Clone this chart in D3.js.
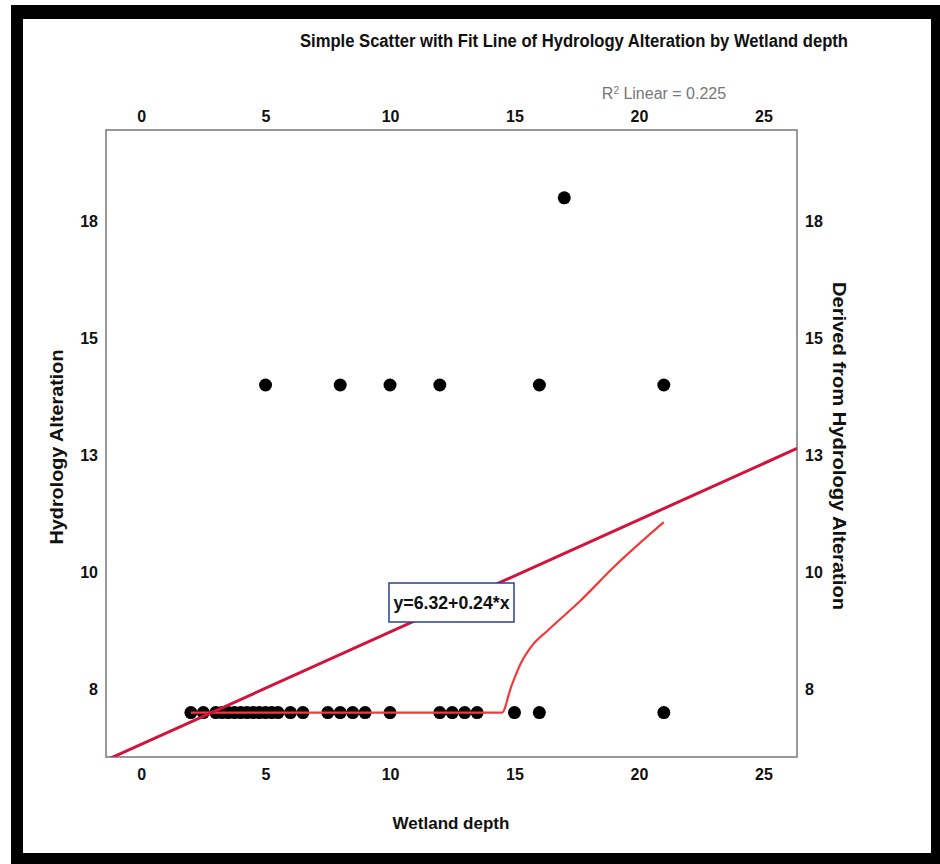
<!DOCTYPE html>
<html>
<head>
<meta charset="utf-8">
<script src="https://cdn.jsdelivr.net/npm/d3@7"></script>
<style>
  body { margin: 0; background: #fff; }
  text { font-family: "Liberation Sans", Arial, sans-serif; }
</style>
</head>
<body>
<div id="chart"></div>
<script>
// Data

var depth = [2, 2.5, 3, 3.25, 3.5, 3.75, 4, 4.25, 4.5, 4.75, 5, 5.25, 5.5, 6, 6.5, 7.5, 8, 8.5, 9, 10, 12, 12.5, 13, 13.5, 15, 16, 21,
             5, 8, 10, 12, 16, 21,
             17];
var alteration = [7, 7, 7, 7, 7, 7, 7, 7, 7, 7, 7, 7, 7, 7, 7, 7, 7, 7, 7, 7, 7, 7, 7, 7, 7, 7, 7,
                  14, 14, 14, 14, 14, 14,
                  18];

// smoothed (loess-like) line
var loessX = [2, 14.5, 14.86, 15.26, 15.66, 16.35, 17.67, 18.99, 21];
var loessY = [7, 7, 7.54, 8.06, 8.4, 8.76, 9.4, 10.11, 11.07];

// linear fit y = 6.32 + 0.24x
var fitIntercept = 6.32;
var fitSlope = 0.24;

var xTicks = [0, 5, 10, 15, 20, 25];
var yTicks = [7.5, 10, 12.5, 15, 17.5];
var yTickLabels = ["8", "10", "13", "15", "18"];

var width = 940, height = 864;
var plot = {left: 106, right: 797, top: 130, bottom: 757};

var svg = d3.select("#chart")
  .append("svg")
  .attr("width", width)
  .attr("height", height);

// black frame
svg.append("rect")
  .attr("x", 11).attr("y", 5)
  .attr("width", width - 11).attr("height", height - 5)
  .attr("fill", "#000");
svg.append("rect")
  .attr("x", 23).attr("y", 19)
  .attr("width", 931 - 23).attr("height", 853 - 19)
  .attr("fill", "#fff");

// Scales

var xScale = d3.scaleLinear()
  .domain([-1.41, 26.35])
  .range([plot.left, plot.right]);

var yScale = d3.scaleLinear()
  .domain([6.05, 19.45])
  .range([plot.bottom, plot.top]);

svg.append("clipPath").attr("id", "plotclip")
  .append("rect")
  .attr("x", plot.left).attr("y", plot.top)
  .attr("width", plot.right - plot.left).attr("height", plot.bottom - plot.top);

// plot box
svg.append("rect")
  .attr("x", plot.left).attr("y", plot.top)
  .attr("width", plot.right - plot.left).attr("height", plot.bottom - plot.top)
  .attr("fill", "none")
  .attr("stroke", "#777")
  .attr("stroke-width", 1.5);

// Axes (no tick marks, no domain line)

function styleAxis(g) {
  g.select(".domain").remove();
  g.selectAll("line").remove();
  g.selectAll("text")
    .attr("font-size", 16)
    .attr("font-weight", "bold")
    .attr("fill", "#111");
}

svg.append("g")
  .attr("transform", `translate(0, ${plot.top - 8})`)
  .call(d3.axisTop(xScale).tickValues(xTicks).tickSize(0).tickPadding(0))
  .call(styleAxis);

svg.append("g")
  .attr("transform", `translate(0, ${plot.bottom + 8})`)
  .call(d3.axisBottom(xScale).tickValues(xTicks).tickSize(0).tickPadding(0))
  .call(styleAxis)
  .selectAll("text").attr("dy", "0.95em");

svg.append("g")
  .attr("transform", `translate(${plot.left - 8}, 0)`)
  .call(d3.axisLeft(yScale).tickValues(yTicks).tickSize(0).tickPadding(0)
    .tickFormat(function(d, i) { return yTickLabels[i]; }))
  .call(styleAxis);

svg.append("g")
  .attr("transform", `translate(${plot.right + 8}, 0)`)
  .call(d3.axisRight(yScale).tickValues(yTicks).tickSize(0).tickPadding(0)
    .tickFormat(function(d, i) { return yTickLabels[i]; }))
  .call(styleAxis);

// Labels

svg.append("text")
  .attr("x", 574).attr("y", 47)
  .attr("text-anchor", "middle")
  .attr("font-size", 18)
  .attr("font-weight", "bold")
  .attr("fill", "#111")
  .attr("textLength", 548)
  .attr("lengthAdjust", "spacingAndGlyphs")
  .text("Simple Scatter with Fit Line of Hydrology Alteration by Wetland depth");

svg.append("text")
  .attr("x", 664).attr("y", 99)
  .attr("text-anchor", "middle")
  .attr("font-size", 16)
  .attr("fill", "#777")
  .html("R<tspan font-size='10' dy='-5'>2</tspan><tspan dy='5'> Linear = 0.225</tspan>");

svg.append("text")
  .attr("x", 451).attr("y", 829)
  .attr("text-anchor", "middle")
  .attr("font-size", 17)
  .attr("font-weight", "bold")
  .attr("fill", "#111")
  .text("Wetland depth");

svg.append("text")
  .attr("transform", "translate(63, 447) rotate(-90)")
  .attr("text-anchor", "middle")
  .attr("font-size", 18)
  .attr("font-weight", "bold")
  .attr("fill", "#111")
  .attr("textLength", 195)
  .attr("lengthAdjust", "spacingAndGlyphs")
  .text("Hydrology Alteration");

svg.append("text")
  .attr("transform", "translate(833, 446) rotate(90)")
  .attr("text-anchor", "middle")
  .attr("font-size", 18)
  .attr("font-weight", "bold")
  .attr("fill", "#111")
  .attr("textLength", 328)
  .attr("lengthAdjust", "spacingAndGlyphs")
  .text("Derived from Hydrology Alteration");

// Data marks

var marks = svg.append("g").attr("clip-path", "url(#plotclip)");

marks.selectAll(".dot")
  .data(depth.map(function(d, i) { return {x: d, y: alteration[i]}; }))
  .enter().append("circle")
  .attr("class", "dot")
  .attr("cx", function(d) { return xScale(d.x); })
  .attr("cy", function(d) { return yScale(d.y); })
  .attr("r", 6.5)
  .attr("fill", "#000");

var loessLine = d3.line()
  .x(function(d) { return xScale(d[0]); })
  .y(function(d) { return yScale(d[1]); })
  .curve(d3.curveMonotoneX);

marks.append("path")
  .datum(loessX.map(function(d, i) { return [d, loessY[i]]; }))
  .attr("d", loessLine)
  .attr("fill", "none")
  .attr("stroke", "#f23a3a")
  .attr("stroke-width", 2.2);

var xDom = xScale.domain();
marks.append("line")
  .attr("x1", xScale(xDom[0])).attr("y1", yScale(fitIntercept + fitSlope * xDom[0]))
  .attr("x2", xScale(xDom[1])).attr("y2", yScale(fitIntercept + fitSlope * xDom[1]))
  .attr("stroke", "#d2143c")
  .attr("stroke-width", 3);

// equation box
var eq = svg.append("g");
eq.append("rect")
  .attr("x", 389).attr("y", 583)
  .attr("width", 125).attr("height", 39)
  .attr("fill", "#fff")
  .attr("stroke", "#2a3f8f")
  .attr("stroke-width", 1.5);
eq.append("text")
  .attr("x", 451.5).attr("y", 609)
  .attr("text-anchor", "middle")
  .attr("font-size", 19)
  .attr("font-weight", "bold")
  .attr("fill", "#111")
  .attr("textLength", 116)
  .attr("lengthAdjust", "spacingAndGlyphs")
  .text("y=6.32+0.24*x");
</script>
</body>
</html>
